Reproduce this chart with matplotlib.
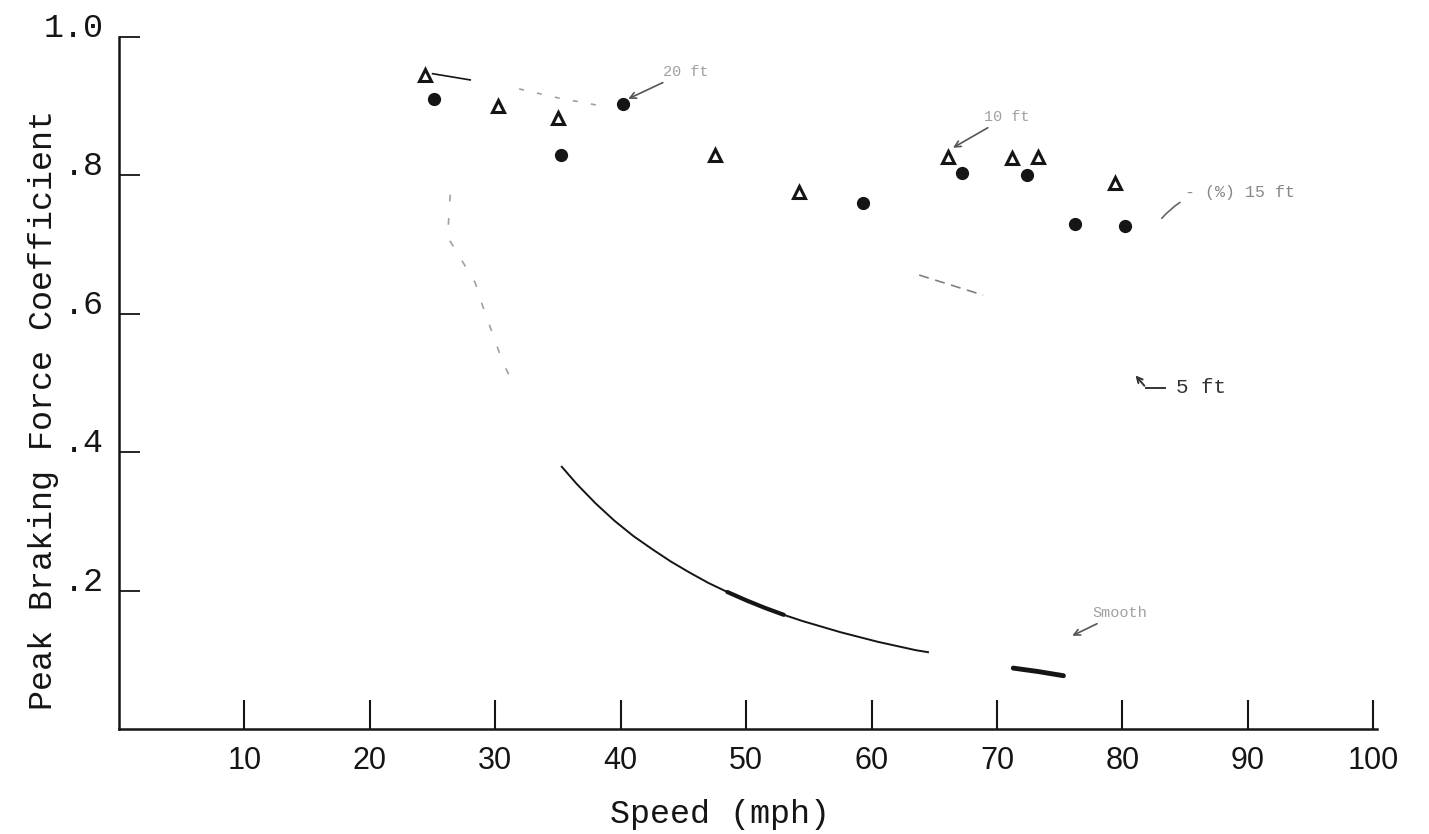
import matplotlib.pyplot as plt


# data (speed in mph, peak braking force coefficient)
tri_speed = [24.4, 30.2, 35.0, 47.5, 54.2, 66.1, 71.2, 73.3, 79.4]
tri_coef = [0.945, 0.900, 0.883, 0.830, 0.776, 0.827, 0.825, 0.827, 0.789]

dot_speed = [25.1, 35.2, 40.2, 59.3, 67.2, 72.4, 76.2, 80.2]
dot_coef = [0.910, 0.830, 0.903, 0.760, 0.803, 0.800, 0.730, 0.727]

curve_speed = [35.3, 36.5, 38.0, 39.5, 41.0, 42.5, 44.0, 45.5, 47.0, 48.5,
               50.0, 51.5, 53.0, 54.5, 56.0, 57.5, 59.0, 60.5, 62.0, 63.5, 64.5]
curve_coef = [0.379, 0.354, 0.326, 0.301, 0.279, 0.260, 0.242, 0.226, 0.211,
              0.198, 0.186, 0.175, 0.165, 0.156, 0.148, 0.140, 0.133, 0.126,
              0.120, 0.114, 0.111]

thick_speed = [48.5, 50.0, 51.5, 53.0]
thick_coef = [0.198, 0.186, 0.175, 0.165]

tail_speed = [71.3, 73.3, 75.3]
tail_coef = [0.088, 0.083, 0.077]

# faded pencil traces in the scan
arc_speed = [26.4, 26.2, 28.4, 28.8, 30.6, 31.4]
arc_coef = [0.772, 0.711, 0.645, 0.621, 0.530, 0.500]
dash_speed = [63.8, 68.9]
dash_coef = [0.656, 0.627]
upper_speed = [31.9, 35.5, 37.2, 38.7]
upper_coef = [0.925, 0.910, 0.905, 0.899]

xticks = [10, 20, 30, 40, 50, 60, 70, 80, 90, 100]
yticks = [0.2, 0.4, 0.6, 0.8, 1.0]
ytick_labels = [".2", ".4", ".6", ".8", "1.0"]

ink = "#151515"
faint = "#a0a0a0"
mono = ["Liberation Mono", "DejaVu Sans Mono"]
narrow = ["Liberation Sans Narrow", "Liberation Sans", "DejaVu Sans"]

fig = plt.figure(figsize=(14.29, 8.34), dpi=100)
ax = fig.add_axes([0.0833, 0.1259, 0.8803, 0.8297])

ax.plot(curve_speed, curve_coef, color=ink, lw=1.4)
ax.plot(thick_speed, thick_coef, color=ink, lw=3.0, solid_capstyle="round")
ax.plot(tail_speed, tail_coef, color=ink, lw=3.5, solid_capstyle="round")

ax.plot(arc_speed, arc_coef, color=faint, lw=1.2, ls=(0, (4, 10)))
ax.plot(dash_speed, dash_coef, color="#808080", lw=1.2, ls=(0, (6, 4)))
ax.plot(upper_speed, upper_coef, color=faint, lw=1.2, ls=(0, (3, 8)))

ax.plot(tri_speed, tri_coef, ls="none", marker="^", ms=9, mfc="white",
        mec=ink, mew=2.2)
ax.plot(dot_speed, dot_coef, ls="none", marker="o", ms=8.5, color=ink)

# leader lines and labels (faded in the original)
ax.plot([25.0, 28.0], [0.947, 0.938], color=ink, lw=1.2)
ax.annotate("20 ft", xy=(40.4, 0.909), xytext=(43.4, 0.950),
            fontsize=11, family=mono, color=faint, va="center",
            arrowprops=dict(arrowstyle="->", color="#555555", lw=1.2))
ax.annotate("10 ft", xy=(66.3, 0.838), xytext=(69.0, 0.885),
            fontsize=11, family=mono, color=faint, va="center",
            arrowprops=dict(arrowstyle="->", color="#555555", lw=1.2))
ax.annotate("- (%) 15 ft", xy=(83.0, 0.735), xytext=(85.0, 0.775),
            fontsize=12, family=mono, color="#888888", va="center",
            arrowprops=dict(arrowstyle="-", color="#666666", lw=1.2,
                            connectionstyle="arc3,rad=0.3"))
ax.plot([81.9, 83.4], [0.493, 0.493], color="#333333", lw=1.4)
ax.annotate("", xy=(80.9, 0.514), xytext=(81.9, 0.493),
            arrowprops=dict(arrowstyle="->", color="#333333", lw=1.4))
ax.text(84.3, 0.493, "5 ft", fontsize=15, family=mono, color="#333333",
        va="center")
ax.annotate("Smooth", xy=(75.8, 0.133), xytext=(77.6, 0.168),
            fontsize=11, family=mono, color=faint, va="center",
            arrowprops=dict(arrowstyle="->", color="#555555", lw=1.2))

ax.set_xlim(0, 100.3)
ax.set_ylim(0, 1.0)
ax.spines["top"].set_visible(False)
ax.spines["right"].set_visible(False)
for s in ["left", "bottom"]:
    ax.spines[s].set_linewidth(1.8)
    ax.spines[s].set_color(ink)

ax.set_xticks(xticks)
ax.set_xticklabels([str(t) for t in xticks], family=narrow, fontsize=22,
                   color=ink)
ax.set_yticks(yticks)
ax.set_yticklabels(ytick_labels, family=mono, fontsize=24, color=ink,
                   va="baseline")
ax.tick_params(axis="x", direction="in", length=21, width=1.5, pad=12,
               colors=ink)
ax.tick_params(axis="y", direction="in", length=15, width=1.3, pad=11,
               colors=ink)

fig.text(44 / 1429, 1 - 410 / 834, "Peak Braking Force Coefficient",
         rotation=90, ha="center", va="center", family=mono, fontsize=24,
         color=ink)
fig.text(720 / 1429, 1 - 815 / 834, "Speed (mph)", ha="center",
         va="center", family=mono, fontsize=24, color=ink)

fig.savefig("out.png", dpi=100)
